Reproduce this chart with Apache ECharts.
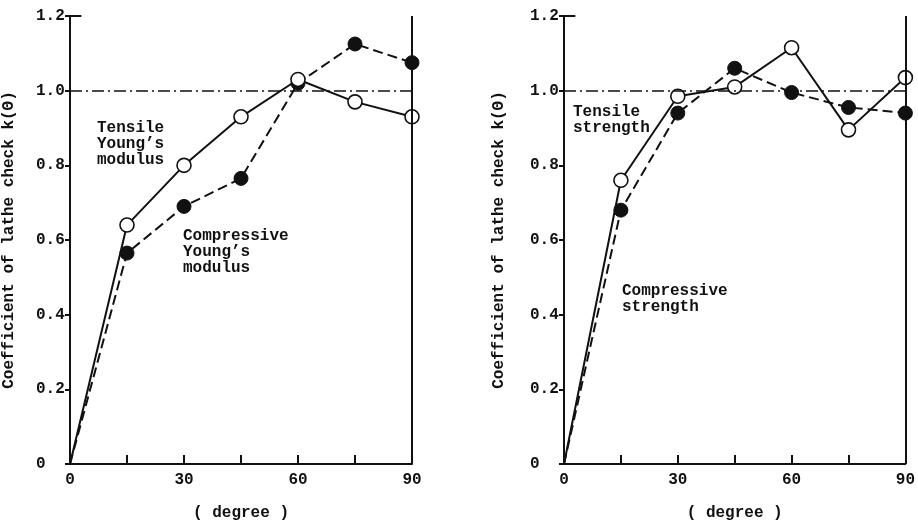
<!DOCTYPE html>
<html>
<head>
<meta charset="utf-8">
<script src="https://cdn.jsdelivr.net/npm/echarts@6/dist/echarts.min.js"></script>
<style>
 html, body { margin: 0; padding: 0; background: #fff; }
 #chart { width: 918px; height: 526px; }
</style>
</head>
<body>
<div id="chart"></div>
<script>
// angle of cut (degree)
const degrees = [0, 15, 30, 45, 60, 75, 90]
// left panel: Young's modulus
const youngTensile = [0, 0.64, 0.80, 0.93, 1.03, 0.97, 0.93]
const youngCompressive = [0, 0.565, 0.69, 0.765, 1.02, 1.125, 1.075]
// right panel: strength
const strengthTensile = [0, 0.76, 0.985, 1.01, 1.115, 0.895, 1.035]
const strengthCompressive = [0, 0.68, 0.94, 1.06, 0.995, 0.955, 0.94]
const yTicks = [0, 0.2, 0.4, 0.6, 0.8, 1.0, 1.2]
const xLabelled = [0, 30, 60, 90]

const FONT = 'Liberation Mono'
const txt = { fontFamily: FONT, fontWeight: 'bold', fontSize: 16, color: '#111' }

const pts = (ys) => degrees.map((d, i) => i === 0 ? { value: [d, ys[i]], symbol: 'none' } : [d, ys[i]])

const makeXAxis = (idx) => ({
 type: 'value', gridIndex: idx, min: 0, max: 90, interval: 15,
 name: '( degree )', nameLocation: 'middle', nameGap: 41, nameTextStyle: txt,
 axisLine: { lineStyle: { color: '#111', width: 2 } },
 axisTick: { inside: true, length: 9, lineStyle: { color: '#111', width: 2 } },
 axisLabel: Object.assign({}, txt, { margin: 8, formatter: v => xLabelled.includes(v) ? String(v) : '' }),
 splitLine: { show: false }
})
const makeYAxis = (idx, gap) => ({
 type: 'value', gridIndex: idx, min: 0, max: 1.2, interval: 0.2,
 name: 'Coefficient of lathe check k(Θ)', nameLocation: 'middle', nameGap: gap, nameRotate: 90,
 nameTextStyle: txt,
 axisLine: { show: true, lineStyle: { color: '#111', width: 2 } },
 axisTick: { show: true, length: 5, lineStyle: { color: '#111', width: 2 } },
 axisLabel: Object.assign({}, txt, { margin: 34, align: 'left',
  formatter: v => { const t = yTicks.find(k => Math.abs(k - v) < 1e-6); return t === 0 ? '0' : t.toFixed(1) } }),
 splitLine: { show: false }
})

const frame = (idx) => ({
 type: 'line', xAxisIndex: idx, yAxisIndex: idx, data: [], silent: true,
 markLine: {
  symbol: 'none', silent: true, label: { show: false },
  data: [
   [{ coord: [0, 1.0] }, { coord: [90, 1.0], lineStyle: { type: [12, 4, 2, 4], width: 1.6, color: '#111' } }],
   [{ coord: [90, 0] }, { coord: [90, 1.2], lineStyle: { type: 'solid', width: 2, color: '#111' } }],
   [{ coord: [0, 1.2] }, { coord: [3, 1.2], lineStyle: { type: 'solid', width: 2, color: '#111' } }]
  ]
 }
})

const lineSeries = (idx, ys, open) => ({
 type: 'line', xAxisIndex: idx, yAxisIndex: idx, data: pts(ys),
 symbol: 'circle', symbolSize: 14, z: open ? 4 : 3,
 lineStyle: { color: '#111', width: 2, type: open ? 'solid' : [10, 5] },
 itemStyle: open ? { color: '#fff', borderColor: '#111', borderWidth: 1.6 } : { color: '#111', borderColor: '#111' },
 animation: false
})

const note = (x, y, text) => ({
 type: 'text', left: x, top: y,
 style: { text, font: 'bold 16px "' + FONT + '"', fill: '#111', lineHeight: 16 }
})

const chart = echarts.init(document.getElementById('chart'))
chart.setOption({
 animation: false,
 backgroundColor: '#fff',
 grid: [
  { left: 70, right: 506, top: 16, bottom: 54 },
  { left: 564, right: 11, top: 16, bottom: 54 }
 ],
 xAxis: [makeXAxis(0), makeXAxis(1)],
 yAxis: [makeYAxis(0, 53), makeYAxis(1, 57)],
 series: [
  frame(0), frame(1),
  lineSeries(0, youngCompressive, false),
  lineSeries(0, youngTensile, true),
  lineSeries(1, strengthCompressive, false),
  lineSeries(1, strengthTensile, true)
 ],
 graphic: [
  note(97, 120, 'Tensile\nYoung\u2019s\nmodulus'),
  note(183, 228, 'Compressive\nYoung\u2019s\nmodulus'),
  note(573, 104, 'Tensile\nstrength'),
  note(622, 283, 'Compressive\nstrength')
 ]
})
</script>
</body>
</html>
